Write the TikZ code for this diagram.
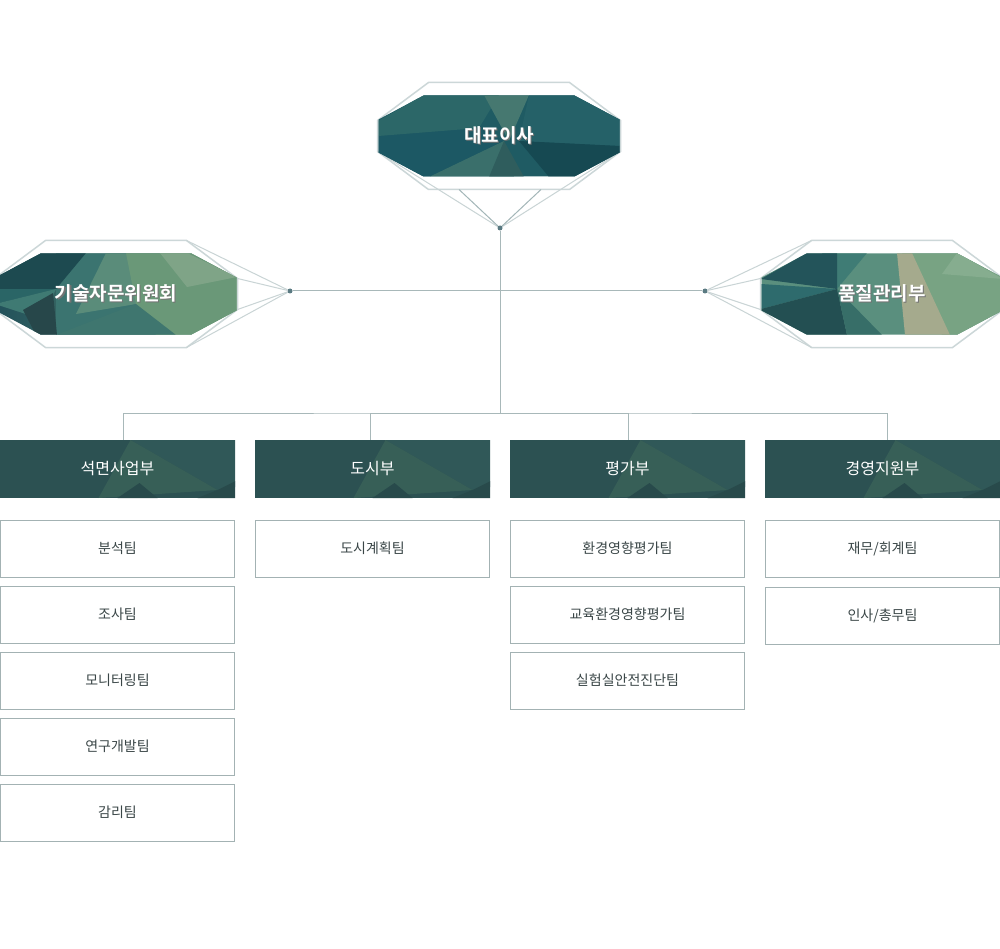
\documentclass[tikz,border=0pt]{standalone}
\usepackage{fontspec}
\setmainfont{Noto Sans CJK KR}[BoldFont={Noto Sans CJK KR Bold}]
\usepackage{tikz}
\usetikzlibrary{calc}
\definecolor{deptgreen}{HTML}{2C5152}
\definecolor{deptlight}{HTML}{375F57}
\definecolor{deptmid}{HTML}{305858}
\definecolor{deptdark}{HTML}{284A4B}
\definecolor{boxgray}{HTML}{A3B2B3}
\definecolor{teamtext}{HTML}{3A4647}
\definecolor{linegray}{HTML}{A8B8B9}
\definecolor{octgray}{HTML}{CCD7D8}
\definecolor{raygray}{HTML}{C9D4D5}
\definecolor{raydark}{HTML}{A3B6B8}
\definecolor{dotblue}{HTML}{5A7A82}
% facets of the top octagon
\definecolor{topbase}{RGB}{31,91,99}
\definecolor{topA}{RGB}{28,88,100}
\definecolor{topB}{RGB}{44,103,104}
\definecolor{topC}{RGB}{70,120,112}
\definecolor{topD}{RGB}{37,97,104}
\definecolor{topF}{RGB}{22,73,82}
\definecolor{topG}{RGB}{58,111,107}
\definecolor{topH}{RGB}{47,93,93}
% facets of the left octagon
\definecolor{leftbase}{RGB}{33,80,90}
\definecolor{leftend}{RGB}{106,154,120}
\definecolor{leftA}{RGB}{59,116,112}
\definecolor{leftB}{RGB}{90,140,122}
\definecolor{leftC}{RGB}{106,152,120}
\definecolor{leftD}{RGB}{127,164,135}
\definecolor{leftE}{RGB}{63,118,111}
\definecolor{leftF}{RGB}{42,101,102}
\definecolor{leftG}{RGB}{63,122,115}
\definecolor{leftH}{RGB}{29,74,80}
\definecolor{leftI}{RGB}{39,71,74}
% facets of the right octagon
\definecolor{rightbase}{RGB}{90,143,126}
\definecolor{rightA}{RGB}{120,163,131}
\definecolor{rightB}{RGB}{134,173,143}
\definecolor{rightC}{RGB}{165,170,141}
\definecolor{rightD}{RGB}{63,124,117}
\definecolor{rightE}{RGB}{35,84,90}
\definecolor{rightF}{RGB}{46,107,109}
\definecolor{rightG}{RGB}{35,79,82}
\definecolor{rightH}{RGB}{55,110,104}
\newcommand\shadowtxt[1]{\leavevmode\rlap{\kern1.2pt\raisebox{-1.6pt}{\textcolor{black!55}{#1}}}#1}
% half width, half height, chamfer x, chamfer y
\newcommand\octpath[4]{(-#1+#3,-#2) -- (#1-#3,-#2) -- (#1,-#2+#4) -- (#1,#2-#4) -- (#1-#3,#2) -- (-#1+#3,#2) -- (-#1,#2-#4) -- (-#1,-#2+#4) -- cycle}
\newcommand\deptbg[1]{%
\begin{scope}[shift={(#1,469)}]
\fill[deptgreen] (-117.5,-29) rectangle (117.5,29);
\clip (-117.5,-29) rectangle (117.5,29);
\fill[deptmid] (13,-29) -- (118,-29) -- (118,18) -- (100,21) -- cycle;
\fill[deptlight] (13,-29) -- (-19,29) -- (100,21) -- cycle;
\fill[deptdark] (22,14) -- (40,29) -- (0,29) -- cycle;
\fill[deptdark] (100,21) -- (118,12) -- (118,29) -- (80,29) -- cycle;
\end{scope}}

\begin{document}
\begin{tikzpicture}[x=1pt,y=-1pt,
octa/.style={minimum width=241, minimum height=81, inner sep=0, text=white,
font=\bfseries\fontsize{19}{19}\selectfont},
octaline/.style={draw=octgray, line width=1.5},
dept/.style={minimum width=235, minimum height=58, inner sep=0, text=white,
font=\fontsize{16}{16}\selectfont},
team/.style={draw=boxgray, line width=1, minimum width=234, minimum height=57, inner sep=0,
text=teamtext, font=\fontsize{14}{14}\selectfont},
jointdot/.style={circle, fill=dotblue, inner sep=0, minimum size=5},
conn/.style={draw=linegray, line width=1},
ray/.style={draw=raygray, line width=1}]
\useasboundingbox[fill=white] (0,0) rectangle (1000,949);

% outlines round the three octagons
\begin{scope}[shift={(499,136)}]
\draw[octaline] \octpath{121.5}{53.5}{51}{38};
\coordinate (TOa) at (-121.5,15.5);
\coordinate (TOb) at (-40,53.5);
\coordinate (TOc) at (42,53.5);
\coordinate (TOd) at (121.5,15.5);
\end{scope}
\begin{scope}[shift={(116,294)}]
\draw[octaline] \octpath{121.5}{53.5}{51}{38};
\coordinate (LOa) at (70.5,-53.5);
\coordinate (LOb) at (121.5,-15.5);
\coordinate (LOc) at (121.5,15.5);
\coordinate (LOd) at (70.5,53.5);
\end{scope}
\begin{scope}[shift={(882,294)}]
\draw[octaline] \octpath{121.5}{53.5}{51}{38};
\coordinate (ROa) at (-70.5,-53.5);
\coordinate (ROb) at (-121.5,-15.5);
\coordinate (ROc) at (-121.5,15.5);
\coordinate (ROd) at (-70.5,53.5);
\end{scope}

\node[jointdot] (Tdot) at (500,228) {};
\node[jointdot] (Ldot) at (290,291) {};
\node[jointdot] (Rdot) at (705,291) {};
\coordinate (bar) at (500,413);

\draw[ray] (TOa) -- (Tdot);
\draw[ray] (TOd) -- (Tdot);
\draw[ray,draw=raydark] (TOb) -- (Tdot);
\draw[ray,draw=raydark] (TOc) -- (Tdot);
\draw[ray] (LOa) -- (Ldot);
\draw[ray] (LOb) -- (Ldot);
\draw[ray] (LOc) -- (Ldot);
\draw[ray] (LOd) -- (Ldot);
\draw[ray] (ROa) -- (Rdot);
\draw[ray] (ROb) -- (Rdot);
\draw[ray] (ROc) -- (Rdot);
\draw[ray] (ROd) -- (Rdot);

% faceted octagons
\begin{scope}[shift={(499,136)}]
\clip \octpath{120.5}{40.5}{45}{24};
\fill[topbase] (-121,-41) rectangle (121,41);
\fill[topA] (-121,0) -- (-20,-8) -- (5,5) -- (-70,41) -- (-121,41) -- cycle;
\fill[topB] (-121,-15) -- (-75,-41) -- (0,-41) -- (-20,-8) -- (-121,0) -- cycle;
\fill[topC] (-15,-41) -- (30,-41) -- (10,5) -- cycle;
\fill[topD] (30,-41) -- (121,-41) -- (121,10) -- (20,5) -- cycle;
\fill[topF] (20,5) -- (121,10) -- (121,41) -- (50,41) -- cycle;
\fill[topG] (-70,41) -- (5,5) -- (15,41) -- cycle;
\fill[topH] (-10,41) -- (5,5) -- (25,41) -- cycle;
\end{scope}
\begin{scope}[shift={(116,294)}]
\clip \octpath{120.5}{40.5}{45}{24};
\shade[left color=leftbase, right color=leftend] (-121,-41) rectangle (121,41);
\fill[leftA] (-60,-41) -- (10,-41) -- (40,41) -- (-60,41) -- cycle;
\fill[leftB] (-10,-41) -- (44,-41) -- (20,10) -- (-40,20) -- cycle;
\fill[leftC] (10,-41) -- (121,-41) -- (121,41) -- (40,41) -- (20,10) -- cycle;
\fill[leftD] (44,-41) -- (71,-41) -- (121,-17) -- (71,-7) -- cycle;
\fill[leftE] (-60,41) -- (20,10) -- (60,41) -- cycle;
\fill[leftF] (-121,-5) -- (-60,-5) -- (-121,10) -- cycle;
\fill[leftG] (-121,10) -- (-60,-5) -- (-75,25) -- cycle;
\fill[leftH] (-121,-20) -- (-75,-41) -- (-30,-41) -- (-60,-5) -- (-121,-5) -- cycle;
\fill[leftI] (-93,16) -- (-63,-1) -- (-59,41) -- (-80,41) -- cycle;
\end{scope}
\begin{scope}[shift={(882,294)}]
\clip \octpath{120.5}{40.5}{45}{24};
\fill[rightbase] (-121,-41) rectangle (121,41);
\fill[rightA] (20,-41) -- (121,-41) -- (121,41) -- (60,41) -- cycle;
\fill[rightB] (75,-41) -- (121,-15) -- (60,-20) -- cycle;
\fill[rightC] (15,-41) -- (30,-41) -- (68,41) -- (23,41) -- cycle;
\fill[rightD] (-60,-41) -- (-15,-41) -- (-45,-5) -- cycle;
\fill[rightE] (-121,-15) -- (-75,-41) -- (-45,-41) -- (-45,-5) -- cycle;
\fill[rightF] (-121,-10) -- (-45,-5) -- (-121,15) -- cycle;
\fill[rightG] (-121,15) -- (-45,-5) -- (-35,41) -- (-121,41) -- cycle;
\fill[rightH] (-45,-5) -- (-35,41) -- (0,41) -- cycle;
\end{scope}

\node[octa] (T) at (499,136) {\shadowtxt{대표이사}};
\node[octa] (L) at (116,294) {\shadowtxt{기술자문위원회}};
\node[octa] (R) at (882,294) {\shadowtxt{품질관리부}};

% departments
\deptbg{117.5}
\deptbg{372.5}
\deptbg{627.5}
\deptbg{882.5}
\node[dept] (0D) at (117.5,469) {석면사업부};
\node[dept] (1D) at (372.5,469) {도시부};
\node[dept] (2D) at (627.5,469) {평가부};
\node[dept] (3D) at (882.5,469) {경영지원부};

\draw[conn] (Ldot) -- (Rdot);
\draw[conn] (Tdot) -- (bar);
\draw[conn] ([xshift=5.5]0D.north) |- (bar) -| ([xshift=4.5]3D.north);
\draw[conn] ([xshift=-2.5]1D.north) |- (bar);
\draw[conn] ([xshift=0.5]2D.north) |- (bar);

% teams
\node[team] (0T0) at (117.5,548.5) {분석팀};
\node[team] (0T1) at (117.5,614.5) {조사팀};
\node[team] (0T2) at (117.5,680.5) {모니터링팀};
\node[team] (0T3) at (117.5,746.5) {연구개발팀};
\node[team] (0T4) at (117.5,812.5) {감리팀};
\node[team] (1T0) at (372.5,548.5) {도시계획팀};
\node[team] (2T0) at (627.5,548.5) {환경영향평가팀};
\node[team] (2T1) at (627.5,614.5) {교육환경영향평가팀};
\node[team] (2T2) at (627.5,680.5) {실험실안전진단팀};
\node[team] (3T0) at (882.5,548.5) {재무/회계팀};
\node[team] (3T1) at (882.5,615.5) {인사/총무팀};
\end{tikzpicture}
\end{document}
